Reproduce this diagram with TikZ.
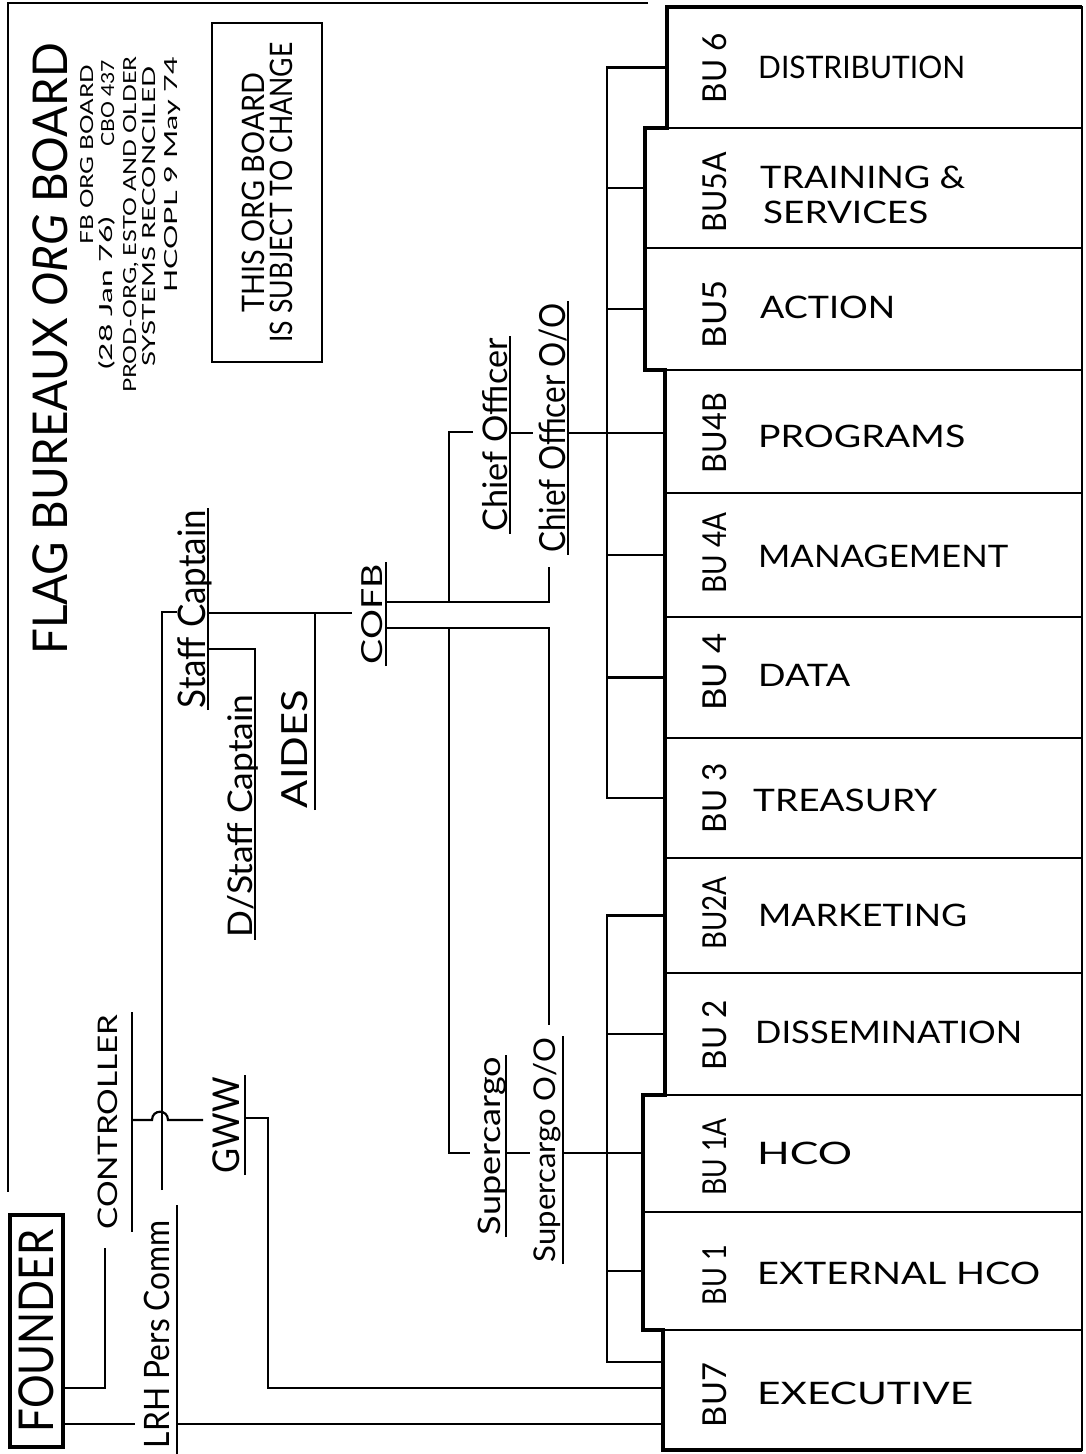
\documentclass[tikz,border=0pt]{standalone}
\usepackage{fontspec}
\setmainfont{Lato}
\usepackage{graphicx}
\usetikzlibrary{calc}
\newlength\fitlen
\newcommand\fitw[2]{\settowidth{\fitlen}{#2}\pgfmathsetmacro\fitratio{#1/\fitlen}\scalebox{\fitratio}[1]{#2}}
\newcommand\fs[1]{\fontsize{#1}{#1}\selectfont}
\tikzset{
  ln/.style={line width=2.2pt},
  ul/.style={line width=2.2pt, shorten <=-2pt, shorten >=-2pt},
  lab/.style={rotate=90, anchor=south, inner xsep=0pt, text depth=0pt},
  bubox/.style={draw, line width=2pt, inner sep=0pt},
  outline/.style={line width=4.5pt},
  bul/.style={rotate=90, inner sep=0pt, font=\fs{33}},
  boxt/.style={anchor=west, inner sep=0pt, font=\fs{31}},
  subt/.style={rotate=90, anchor=west, inner sep=0pt, text depth=0pt, text height=12pt, font=\fs{18}}
}
\newcommand\ulab[7]{\node[lab, inner ysep=#6pt, font=\fs{#5}] (#1) at (#2,#3) {\fitw{#4}{#7}};
  \draw[ul] (#1.south west) -- (#1.south east);}
\begin{document}
\begin{tikzpicture}[x=1pt,y=-1pt]
\useasboundingbox (0,0) rectangle (1086,1454);

% frame
\draw[ln] (648,3) -- (8,3) -- (8,1192);

% title block
\node[rotate=90, anchor=west, inner sep=0pt, font=\fs{48}] (title) at (50,655) {\fitw{612}{FLAG BUREAUX \textit{ORG} BOARD}};
\node[subt] (sub1) at (87,245) {\fitw{180}{FB ORG BOARD}};
\node[subt] (sub2) at (106,370) {\fitw{153}{(28 Jan 76)}};
\node[subt] (sub3) at (108,147) {\fitw{87}{CBO 437}};
\node[subt] (sub4) at (130,393) {\fitw{336}{PROD-ORG, ESTO AND OLDER}};
\node[subt] (sub5) at (149,367) {\fitw{300}{SYSTEMS RECONCILED}};
\node[subt] (sub6) at (171,293) {\fitw{236}{HCOPL 9 May 74}};

\node[draw, line width=2.2pt, rotate=90, minimum width=339pt, minimum height=110pt, inner sep=0pt,
      align=center, font=\fontsize{31}{28}\selectfont] (chg) at (267,192.5)
      {\fitw{240}{THIS ORG BOARD}\\\fitw{300}{IS SUBJECT TO CHANGE}};

% founder
\node[rotate=90, draw, line width=4pt, minimum width=232pt, minimum height=53pt, inner sep=0pt, font=\fs{48}]
      (founder) at (36.5,1331) {\fitw{203}{FOUNDER}};

% labels with underlines
\ulab{ctrl}{132}{1122}{215}{27}{14}{CONTROLLER}
\ulab{gww}{245}{1125}{96}{37}{5}{GWW}
\ulab{lrh}{177}{1334}{228}{35}{7}{LRH Pers Comm}
\draw[ln] (177,1205) -- (177,1454);
\ulab{stc}{208}{609}{198}{38}{2}{Staff Captain}
\ulab{dstc}{255}{816}{243}{34}{2}{D/Staff Captain}
\ulab{aides}{315}{749}{118}{36}{7}{AIDES}
\ulab{cofb}{386}{614}{100}{29}{3}{COFB}
\ulab{cho}{510}{435}{193}{34}{2}{Chief Officer}
\ulab{choo}{568}{428}{249}{36}{2}{Chief Officer O/O}
\ulab{sup}{506}{1146}{178}{31}{5}{Supercargo}
\ulab{supo}{563}{1150}{224}{30}{7}{Supercargo O/O}

% BU boxes
\node[bubox, minimum width=415pt, minimum height=121pt] (bu6)  at (874.5,67.5) {};
\node[bubox, minimum width=437pt, minimum height=120pt] (bu5a) at (863.5,188) {};
\node[bubox, minimum width=437pt, minimum height=122pt] (bu5)  at (863.5,309) {};
\node[bubox, minimum width=417pt, minimum height=123pt] (bu4b) at (873.5,431.5) {};
\node[bubox, minimum width=417pt, minimum height=124pt] (bu4a) at (873.5,555) {};
\node[bubox, minimum width=417pt, minimum height=121pt] (bu4)  at (873.5,677.5) {};
\node[bubox, minimum width=417pt, minimum height=120pt] (bu3)  at (873.5,798) {};
\node[bubox, minimum width=417pt, minimum height=115pt] (bu2a) at (873.5,915.5) {};
\node[bubox, minimum width=417pt, minimum height=122pt] (bu2)  at (873.5,1034) {};
\node[bubox, minimum width=439pt, minimum height=117pt] (bu1a) at (862.5,1153.5) {};
\node[bubox, minimum width=439pt, minimum height=118pt] (bu1)  at (862.5,1271) {};
\node[bubox, minimum width=419pt, minimum height=120pt] (bu7)  at (872.5,1390) {};
\draw[outline] (1082,7) -- (667,7) -- (667,128) -- (645,128) -- (645,370) -- (665,370)
  -- (665,1095) -- (643,1095) -- (643,1330) -- (663,1330) -- (663,1450) -- (1082,1450);

% BU numbers
\node[bul] (n6)  at (715,68)   {\fitw{70}{BU 6}};
\node[bul] (n5a) at (715,192)  {\fitw{80}{BU5A}};
\node[bul] (n5)  at (715,314)  {\fitw{68}{BU5}};
\node[bul] (n4b) at (715,433)  {\fitw{80}{BU4B}};
\node[bul] (n4a) at (715,553)  {\fitw{81}{BU 4A}};
\node[bul] (n4)  at (715,672)  {\fitw{77}{BU 4}};
\node[bul] (n3)  at (715,798)  {\fitw{70}{BU 3}};
\node[bul] (n2a) at (715,913)  {\fitw{73}{BU2A}};
\node[bul] (n2)  at (715,1035) {\fitw{70}{BU 2}};
\node[bul] (n1a) at (715,1157) {\fitw{77}{BU 1A}};
\node[bul] (n1)  at (715,1275) {\fitw{60}{BU 1}};
\node[bul] (n7)  at (715,1395) {\fitw{64}{BU7}};

% BU names
\node[boxt] (t6)  at (758,67)   {\fitw{207}{DISTRIBUTION}};
\node[boxt] (t5a) at (760,177)  {\fitw{205}{TRAINING \&}};
\node[boxt] (t5b) at (763,212)  {\fitw{165}{SERVICES}};
\node[boxt] (t5)  at (760,307)  {\fitw{135}{ACTION}};
\node[boxt] (t4b) at (758,436)  {\fitw{207}{PROGRAMS}};
\node[boxt] (t4a) at (758,556)  {\fitw{250}{MANAGEMENT}};
\node[boxt] (t4)  at (758,675)  {\fitw{92}{DATA}};
\node[boxt] (t3)  at (753,800)  {\fitw{184}{TREASURY}};
\node[boxt] (t2a) at (758,915)  {\fitw{209}{MARKETING}};
\node[boxt] (t2)  at (755,1032) {\fitw{267}{DISSEMINATION}};
\node[boxt] (t1a) at (757,1153) {\fitw{95}{HCO}};
\node[boxt] (t1)  at (757,1273) {\fitw{283}{EXTERNAL HCO}};
\node[boxt] (t7)  at (757,1393) {\fitw{216}{EXECUTIVE}};

% connectors: founder side
\draw[ln] (founder.south |- 0,1388) -- (105,1388) -- (105,1248);
\draw[ln] (founder.south |- 0,1424) -- (135,1424);
\draw[ln] (177,1424) -- (bu7.west |- 0,1424);
\draw[ln] (132,1120) -- (152,1120) .. controls (152,1109) and (168,1109) .. (168,1120) -- (203,1120);
\draw[ln] (245,1118) -- (268,1118) -- (268,1388) -- (bu7.west |- 0,1388);
\draw[ln] (162,1190) -- (162,612) -- (177,612);

% staff captain / aides / cofb
\draw[ln] (208,613) -- (352,613);
\draw[ln] (315,613) -- (aides.south west);
\draw[ln] (208,649) -- (255,649) -- (dstc.south west);

% cofb branches
\draw[ln] (386,602) -- (549,602) -- (549,567);
\draw[ln] (449,602) -- (449,432) -- (473,432);
\draw[ln] (386,628) -- (549,628) -- (549,1025);
\draw[ln] (449,628) -- (449,1153) -- (470,1153);

% chief officer
\draw[ln] (510,433) -- (533,433);
\draw[ln] (568,433) -- (bu4b.west |- 0,433);

% upper bracket
\draw[ln] (bu6.west) -- (607,67.5) -- (607,798) -- (bu3.west);
\draw[ln] (607,188) -- (bu5a.west);
\draw[ln] (607,309) -- (bu5.west);
\draw[ln] (607,555) -- (bu4a.west);
\draw[ln] (607,677.5) -- (bu4.west);

% supercargo
\draw[ln] (506,1153) -- (530,1153);
\draw[ln] (563,1153) -- (bu1a.west |- 0,1153);

% lower bracket
\draw[ln] (bu2a.west) -- (607,915.5) -- (607,1362) -- (bu7.west |- 0,1362);
\draw[ln] (607,1034) -- (bu2.west);
\draw[ln] (607,1271) -- (bu1.west);
\end{tikzpicture}
\end{document}
